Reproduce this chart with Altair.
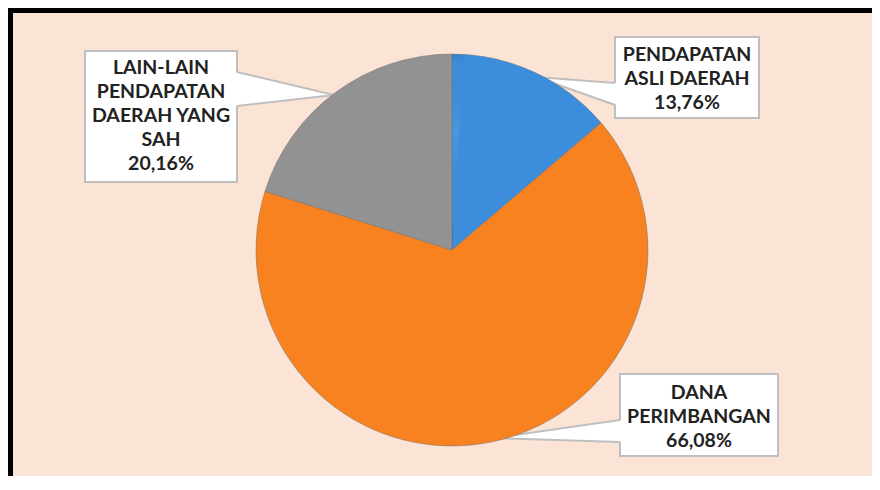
import altair as alt
import pandas as pd

# ---- data ----
categories = ["PENDAPATAN ASLI DAERAH", "DANA PERIMBANGAN", "LAIN-LAIN PENDAPATAN DAERAH YANG SAH"]
values = [13.76, 66.08, 20.16]
label_lines = [
    ["PENDAPATAN", "ASLI DAERAH", "13,76%"],
    ["DANA", "PERIMBANGAN", "66,08%"],
    ["LAIN-LAIN", "PENDAPATAN", "DAERAH YANG", "SAH", "20,16%"],
]
colors = ["#3C8EDD", "#F7821F", "#929292"]

# ---- layout (pixels, chart coordinates) ----
W, H = 864, 468
CX, CY, R = 444, 242, 196
LH = 24
# callout boxes: x0, x1, y0, y1, text-block centre y
boxes = [
    (607, 751, 29, 110, 71),
    (612, 770, 366, 448, 409),
    (77, 229, 43, 174, 108),
]
# tails: base x, base y top, base y bottom, tip x, tip y
tails = [
    (607, 75, 97, 528, 69),
    (612, 412, 434, 486, 430),
    (229, 64, 98, 326, 87),
]
BG = "#FBE4D5"
EDGE = "#BFBFBF"

pie_df = pd.DataFrame({"category": categories, "value": values, "order": [0, 1, 2]})

box_df = pd.DataFrame([
    {"x0": b[0], "x1": b[1], "y0": b[2], "y1": b[3],
     "cx": (b[0] + b[1]) / 2, "ty": b[4] - (len(lines) - 1) * LH / 2, "text": lines}
    for b, lines in zip(boxes, label_lines)
])

tail_rows = []
edge_rows = []
for i, (bx, by0, by1, tx, ty) in enumerate(tails):
    inset = 2 if tx < bx else -2
    tail_rows.append({"id": i, "px": bx + inset, "py": by0, "py2": by1})
    tail_rows.append({"id": i, "px": tx, "py": ty, "py2": ty})
    edge_rows.append({"x": bx, "y": by0, "x2": tx, "y2": ty})
    edge_rows.append({"x": bx, "y": by1, "x2": tx, "y2": ty})
tail_df = pd.DataFrame(tail_rows)
edge_df = pd.DataFrame(edge_rows)

rects = alt.Chart(box_df).mark_rect(fill="white", stroke=EDGE, strokeWidth=2).encode(
    x=alt.X("x0:Q", scale=None), x2="x1:Q",
    y=alt.Y("y0:Q", scale=None), y2="y1:Q",
)

tail_fill = alt.Chart(tail_df).mark_area(fill="white", opacity=1).encode(
    x=alt.X("px:Q", scale=None),
    y=alt.Y("py:Q", scale=None), y2="py2:Q",
    detail="id:N",
)

tail_edges = alt.Chart(edge_df).mark_rule(color=EDGE, strokeWidth=2).encode(
    x=alt.X("x:Q", scale=None), x2="x2:Q",
    y=alt.Y("y:Q", scale=None), y2="y2:Q",
)

pie = alt.Chart(pie_df).mark_arc(radius=R, stroke="#6f6f6f", strokeWidth=0.8, strokeOpacity=0.6).encode(
    theta=alt.Theta("value:Q", stack=True),
    order=alt.Order("order:Q"),
    color=alt.Color("category:N", scale=alt.Scale(domain=categories, range=colors), legend=None),
    x=alt.value(CX), y=alt.value(CY),
)

shade = alt.Chart(pd.DataFrame({"v": [1]})).mark_arc(
    radius=R,
    fill=alt.Gradient(
        gradient="radial",
        stops=[
            alt.GradientStop(color="rgba(255,255,255,0.08)", offset=0),
            alt.GradientStop(color="rgba(0,0,0,0.0)", offset=0.75),
            alt.GradientStop(color="rgba(0,0,0,0.16)", offset=1),
        ],
        x1=0.5, y1=0.4, r1=0, x2=0.5, y2=0.47, r2=0.53,
    ),
).encode(theta=alt.Theta("v:Q"), x=alt.value(CX), y=alt.value(CY))

texts = alt.Chart(box_df).mark_text(
    font="Lato", fontWeight="bold", fontSize=19.5, lineHeight=LH, color="#222222",
    align="center", baseline="middle",
).encode(
    x=alt.X("cx:Q", scale=None), y=alt.Y("ty:Q", scale=None), text="text",
)

frame_left = alt.Chart(pd.DataFrame({"k": [0]})).mark_rect(fill="black").encode(
    x=alt.value(0), x2=alt.value(5), y=alt.value(0), y2=alt.value(H),
)
frame_top = alt.Chart(pd.DataFrame({"k": [0]})).mark_rect(fill="black").encode(
    x=alt.value(0), x2=alt.value(W), y=alt.value(0), y2=alt.value(5),
)

chart = alt.layer(rects, tail_fill, tail_edges, pie, shade, texts, frame_left, frame_top).properties(
    width=W, height=H, padding=0, background=BG,
    autosize=alt.AutoSizeParams(type="none"),
).configure_view(fill=BG, strokeWidth=0)

chart.save("out.html", embed_options={"renderer": "svg", "actions": False})
